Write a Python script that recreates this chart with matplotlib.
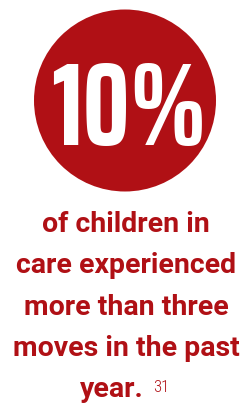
import matplotlib
matplotlib.use("Agg")
import matplotlib.pyplot as plt
from matplotlib.patches import Circle

RED = "#b01015"
BIG_VALUE = "10%"
BODY_LINES = [
    "of children in",
    "care experienced",
    "more than three",
    "moves in the past",
    "year.",
]
FOOTNOTE = "31"

W, H = 246, 405
fig = plt.figure(figsize=(W / 100, H / 100), dpi=100)
ax = fig.add_axes([0, 0, 1, 1])
ax.set_xlim(0, W)
ax.set_ylim(H, 0)
ax.axis("off")

# red disc with the headline figure
ax.add_patch(Circle((125, 100.5), 91, color=RED, lw=0))
ax.text(129, 145, BIG_VALUE, color="white", fontsize=85, fontweight="bold",
        family="Saira ExtraCondensed", ha="center", va="baseline")

baselines = [232, 273, 315, 356, 397]
for line, y in zip(BODY_LINES, baselines):
    if line == "year.":
        ax.text(80, y, line, color=RED, fontsize=20.5, fontweight="bold",
                family="Roboto", ha="left", va="baseline")
    else:
        ax.text(126, y, line, color=RED, fontsize=20.5, fontweight="bold",
                family="Roboto", ha="center", va="baseline")
ax.text(153, 392, FOOTNOTE, color=RED, fontsize=12, fontweight="light",
        family="Roboto Condensed", ha="left", va="baseline")

fig.savefig("out.png", dpi=100)
